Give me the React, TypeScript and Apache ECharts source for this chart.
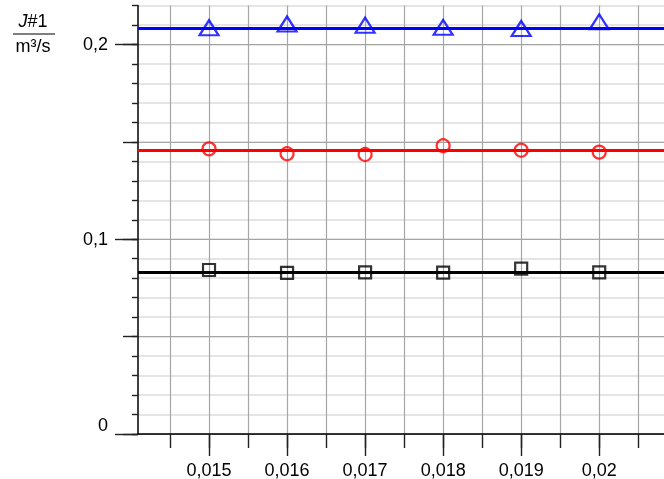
import React, { useEffect, useRef } from 'react';
import * as echarts from 'echarts';

// ---- data ----
const xValues = [0.015, 0.016, 0.017, 0.018, 0.019, 0.02];
const triangleValues = [0.2086, 0.2105, 0.2099, 0.2088, 0.2082, 0.2116];
const circleValues = [0.1464, 0.1439, 0.1435, 0.148, 0.1457, 0.1447];
const squareValues = [0.0842, 0.0827, 0.083, 0.0829, 0.0849, 0.083];
const blueLevel = 0.2085;
const redLevel = 0.1456;
const blackLevel = 0.0833;

// ---- axes ----
const xMin = 0.01409;
const xMax = 0.02083;
const xMajorTicks = [0.015, 0.016, 0.017, 0.018, 0.019, 0.02];
const xMinorTicks = [0.0145, 0.015, 0.0155, 0.016, 0.0165, 0.017, 0.0175, 0.018, 0.0185, 0.019, 0.0195, 0.02, 0.0205];
const yMin = 0;
const yMax = 0.22;
const yMidTicks = [0, 0.05, 0.1, 0.15, 0.2];
const yLabelTicks = [0.1, 0.2];
const yZeroTick = [0];

const FONT = "'Liberation Sans', Arial, Helvetica, sans-serif";
const FS = 18;
const fmt = (v: number) => String(+Number(v).toFixed(4)).replace('.', ',');

const tickStyle = { color: '#222', width: 1.4 };

export default function App() {
  const ref = useRef<HTMLDivElement>(null);
  useEffect(() => {
    if (!ref.current) return;
    const chart = echarts.init(ref.current, null, { renderer: 'svg' });
    const hollow = (color: string) => ({ color: 'rgba(0,0,0,0)', borderColor: color, borderWidth: 2.2 });
    const level = (color: string, v: number) => ({
      silent: true,
      symbol: 'none',
      precision: 5,
      label: { show: false },
      emphasis: { disabled: true },
      lineStyle: { color, width: 2.8, type: 'solid' },
      data: [{ yAxis: v }],
    });
    const pts = (vals: number[]) => xValues.map((x, i) => [x, vals[i]]);
    chart.setOption({
      animation: false,
      grid: { left: 138, right: 0, top: 5.5, bottom: 43, containLabel: false },
      xAxis: [
        {
          type: 'value', min: xMin, max: xMax, position: 'bottom',
          axisLine: { show: true, onZero: false, lineStyle: { color: '#000', width: 1.5 } },
          axisTick: { show: true, length: 14, customValues: xMinorTicks, lineStyle: tickStyle },
          axisLabel: { show: false },
          splitLine: { show: true, lineStyle: { color: '#a6a6a6', width: 1.2 } },
        },
        {
          type: 'value', min: xMin, max: xMax, position: 'bottom',
          axisLine: { show: false, onZero: false },
          axisTick: { show: true, length: 22, customValues: xMajorTicks, lineStyle: tickStyle },
          axisLabel: {
            show: true, customValues: xMajorTicks, formatter: fmt, margin: 27,
            fontSize: FS, fontFamily: FONT, color: '#000',
          },
          splitLine: { show: false },
        },
      ],
      yAxis: [
        {
          type: 'value', min: yMin, max: yMax, interval: 0.01, position: 'left',
          axisLine: { show: true, onZero: false, lineStyle: { color: '#000', width: 1.5 } },
          axisTick: { show: true, length: 6, lineStyle: tickStyle },
          axisLabel: { show: false },
          splitLine: { show: true, lineStyle: { color: '#dcdcdc', width: 1.5 } },
        },
        {
          type: 'value', min: yMin, max: yMax, position: 'left',
          axisLine: { show: false, onZero: false },
          axisTick: { show: true, length: 15, customValues: yMidTicks, lineStyle: tickStyle },
          axisLabel: { show: false },
          splitLine: { show: true, lineStyle: { color: '#a6a6a6', width: 1.2 } },
        },
        {
          type: 'value', min: yMin, max: yMax, position: 'left',
          axisLine: { show: false, onZero: false },
          axisTick: { show: true, length: 23, customValues: [...yZeroTick, ...yLabelTicks], lineStyle: tickStyle },
          axisLabel: {
            show: true, customValues: yLabelTicks, formatter: fmt, margin: 30,
            fontSize: FS, fontFamily: FONT, color: '#000',
          },
          splitLine: { show: false },
        },
        {
          type: 'value', min: yMin, max: yMax, position: 'left',
          axisLine: { show: false, onZero: false },
          axisTick: { show: false },
          axisLabel: {
            show: true, customValues: yZeroTick, formatter: fmt, margin: 30, verticalAlign: 'bottom',
            fontSize: FS, fontFamily: FONT, color: '#000',
          },
          splitLine: { show: false },
        },
      ],
      graphic: [
        {
          type: 'text', x: 33, y: 21,
          style: {
            text: '{i|J}#1', fontSize: FS, fontFamily: FONT, fill: '#000',
            align: 'center', verticalAlign: 'middle',
            rich: { i: { fontStyle: 'italic', fontSize: FS, fontFamily: FONT, fill: '#000' } },
          },
        },
        { type: 'line', shape: { x1: 13, y1: 34, x2: 55, y2: 34 }, style: { stroke: '#000', lineWidth: 1.2 } },
        {
          type: 'text', x: 33, y: 46,
          style: { text: 'm³/s', fontSize: FS, fontFamily: FONT, fill: '#000', align: 'center', verticalAlign: 'middle' },
        },
      ],
      series: [
        {
          type: 'scatter', name: 'triangle', data: pts(triangleValues), symbol: 'triangle', symbolSize: [19, 15],
          itemStyle: hollow('#0000ff'), markLine: level('#0000ff', blueLevel), emphasis: { disabled: true },
        },
        {
          type: 'scatter', name: 'circle', data: pts(circleValues), symbol: 'circle', symbolSize: 13,
          itemStyle: hollow('#ff0000'), markLine: level('#ff0000', redLevel), emphasis: { disabled: true },
        },
        {
          type: 'scatter', name: 'square', data: pts(squareValues), symbol: 'rect', symbolSize: 12,
          itemStyle: hollow('#000000'), markLine: level('#000000', blackLevel), emphasis: { disabled: true },
        },
      ],
    });
    return () => chart.dispose();
  }, []);
  return <div ref={ref} style={{ position: 'fixed', left: 0, top: 0, width: 664, height: 479 }} />;
}
